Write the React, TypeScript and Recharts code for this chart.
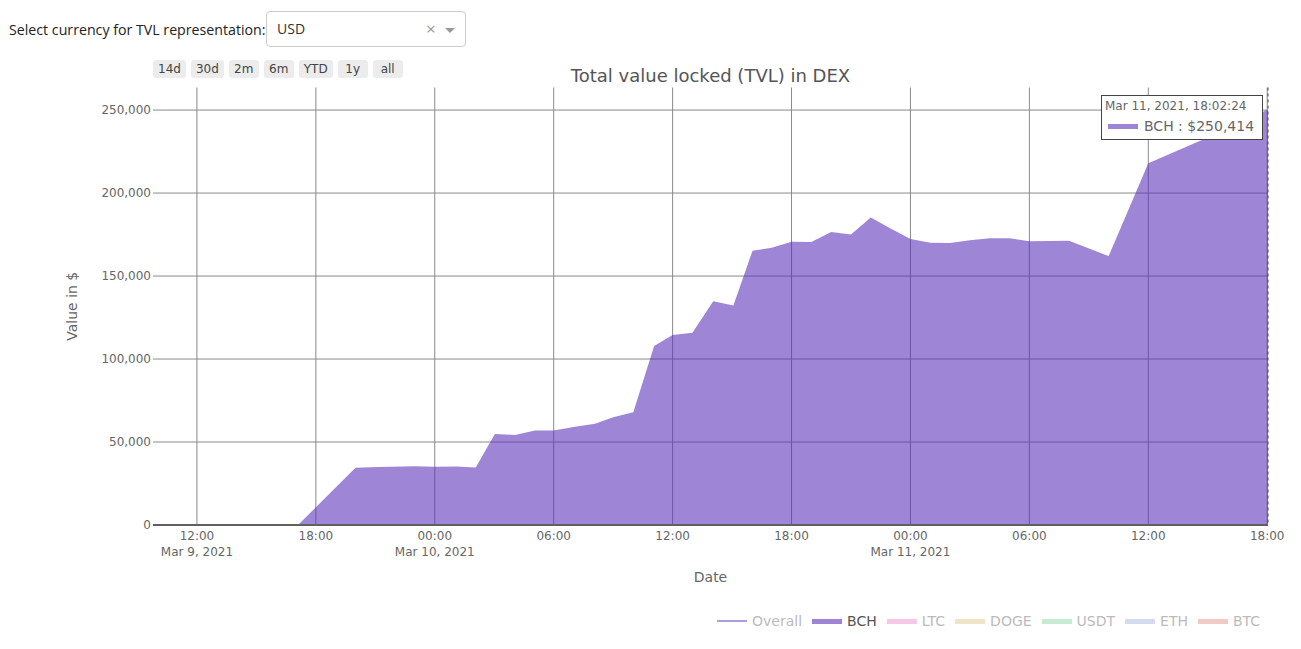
import React from "react";
import { Area, AreaChart, CartesianGrid, Legend, ReferenceLine, Tooltip, XAxis, YAxis } from "recharts";

// TVL samples for BCH (UTC timestamps)
const TIMES = [
  "2021-03-09T09:47:00", "2021-03-09T17:06:00", "2021-03-09T20:00:00", "2021-03-09T21:10:00",
  "2021-03-09T23:00:00", "2021-03-10T00:00:00", "2021-03-10T01:05:00", "2021-03-10T02:04:00",
  "2021-03-10T03:02:00", "2021-03-10T04:03:00", "2021-03-10T05:03:00", "2021-03-10T06:00:00",
  "2021-03-10T07:00:00", "2021-03-10T08:05:00", "2021-03-10T09:00:00", "2021-03-10T10:01:00",
  "2021-03-10T11:04:00", "2021-03-10T12:00:00", "2021-03-10T13:00:00", "2021-03-10T14:03:00",
  "2021-03-10T15:04:00", "2021-03-10T16:02:00", "2021-03-10T17:00:00", "2021-03-10T18:00:00",
  "2021-03-10T19:00:00", "2021-03-10T20:00:00", "2021-03-10T21:00:00", "2021-03-10T22:00:00",
  "2021-03-10T23:00:00", "2021-03-11T00:00:00", "2021-03-11T01:00:00", "2021-03-11T02:00:00",
  "2021-03-11T03:00:00", "2021-03-11T04:00:00", "2021-03-11T05:00:00", "2021-03-11T06:00:00",
  "2021-03-11T08:00:00", "2021-03-11T10:00:00", "2021-03-11T12:00:00", "2021-03-11T15:00:00",
  "2021-03-11T18:02:24",
];

const BCH = [
  0, 0, 34500, 35000,
  35400, 35100, 35200, 34700,
  54800, 54300, 57000, 57000,
  59000, 61000, 64900, 68000,
  107800, 114500, 115800, 134800,
  132200, 165300, 167000, 170600,
  170500, 176600, 175000, 185200,
  178600, 172300, 170000, 169900,
  171600, 172800, 172800, 170900,
  171300, 162000, 217900, 233500,
  250414,
];

const X_TICKS = [
  "2021-03-09T12:00:00", "2021-03-09T18:00:00", "2021-03-10T00:00:00", "2021-03-10T06:00:00",
  "2021-03-10T12:00:00", "2021-03-10T18:00:00", "2021-03-11T00:00:00", "2021-03-11T06:00:00",
  "2021-03-11T12:00:00", "2021-03-11T18:00:00",
];
const Y_TICKS = [0, 50000, 100000, 150000, 200000, 250000];
const Y_MAX = 263594;

const LEGEND_NAMES = ["Overall", "BCH", "LTC", "DOGE", "USDT", "ETH", "BTC"];
const LEGEND_COLORS = ["#ad9ddc", "#9d85d6", "#f6c8e8", "#eee4c9", "#c8ead2", "#d5dcf2", "#f1c9c5"];
const LEGEND_VISIBLE = [false, true, false, false, false, false, false];

const RANGE_BUTTONS = ["14d", "30d", "2m", "6m", "YTD", "1y", "all"];
const MONTHS = ["Jan", "Feb", "Mar", "Apr", "May", "Jun", "Jul", "Aug", "Sep", "Oct", "Nov", "Dec"];

const FONT = "'DejaVu Sans', Verdana, sans-serif";
const toMs = (s: string) => Date.parse(s + "Z");
const pad = (n: number) => String(n).padStart(2, "0");

const data = TIMES.map((t, i) => ({ t: toMs(t), bch: BCH[i] }));
const xTicks = X_TICKS.map(toMs);

function fmtDay(d: Date) {
  return `${MONTHS[d.getUTCMonth()]} ${d.getUTCDate()}, ${d.getUTCFullYear()}`;
}

function DateTick(props: any) {
  const { x, y, payload } = props;
  const d = new Date(payload.value);
  const showDate = payload.value === xTicks[0] || d.getUTCHours() === 0;
  return (
    <g>
      <text x={x} y={y} dy={14.5} textAnchor="middle" fontSize={12} fill="#666" fontFamily={FONT}>
        {pad(d.getUTCHours())}:{pad(d.getUTCMinutes())}
      </text>
      {showDate && (
        <text x={x} y={y} dy={30.5} textAnchor="middle" fontSize={12} fill="#666" fontFamily={FONT}>
          {fmtDay(d)}
        </text>
      )}
    </g>
  );
}

function HoverBox(props: any) {
  const { payload, label } = props;
  if (!payload || !payload.length) return null;
  const d = new Date(label);
  const stamp = `${fmtDay(d)}, ${pad(d.getUTCHours())}:${pad(d.getUTCMinutes())}:${pad(d.getUTCSeconds())}`;
  return (
    <div
      style={{
        width: 162,
        height: 45,
        boxSizing: "border-box",
        background: "#fff",
        border: "1px solid #444",
        fontFamily: FONT,
        color: "#666",
        padding: "3px 0 0 3px",
        whiteSpace: "nowrap",
      }}
    >
      <div style={{ fontSize: 12, lineHeight: "15px" }}>{stamp}</div>
      <div style={{ display: "flex", alignItems: "center", fontSize: 14, lineHeight: "20px", marginTop: 2 }}>
        <span style={{ display: "inline-block", width: 30, height: 5, background: "#9d85d6", margin: "0 6px 0 3px" }} />
        BCH : ${Math.round(payload[0].value).toLocaleString("en-US")}
      </div>
    </div>
  );
}

function LegendRow() {
  return (
    <div style={{ display: "flex", alignItems: "center", fontFamily: FONT, fontSize: 14, height: 20 }}>
      {LEGEND_NAMES.map((name, i) => (
        <div key={name} style={{ display: "flex", alignItems: "center", marginLeft: i === 0 ? 0 : 10 }}>
          <span
            style={{
              display: "inline-block",
              width: 30,
              height: i === 0 ? 2 : 5,
              background: LEGEND_COLORS[i],
              marginRight: 5,
            }}
          />
          <span style={{ color: LEGEND_VISIBLE[i] ? "#555" : "#bbb" }}>{name}</span>
        </div>
      ))}
    </div>
  );
}

export default function App() {
  return (
    <div style={{ position: "absolute", left: 0, top: 0, width: 1301, height: 649, background: "#fff", fontFamily: FONT }}>
      {/* currency selector */}
      <div
        style={{
          position: "absolute",
          left: 9,
          top: 19,
          fontFamily: "'Open Sans', sans-serif",
          fontSize: 14.2,
          lineHeight: "22px",
          color: "#222",
        }}
      >
        Select currency for TVL representation:
      </div>
      <div
        style={{
          position: "absolute",
          left: 266,
          top: 11,
          width: 200,
          height: 36,
          boxSizing: "border-box",
          border: "1px solid #ccc",
          borderRadius: 4,
          fontFamily: "'Open Sans', sans-serif",
          fontSize: 14,
          color: "#333",
        }}
      >
        <span style={{ position: "absolute", left: 10, top: 7 }}>USD</span>
        <span style={{ position: "absolute", left: 159, top: 5, fontSize: 17, color: "#999" }}>×</span>
        <span
          style={{
            position: "absolute",
            left: 178,
            top: 16,
            width: 0,
            height: 0,
            borderLeft: "5px solid transparent",
            borderRight: "5px solid transparent",
            borderTop: "5px solid #999",
          }}
        />
      </div>

      {/* range buttons */}
      <div style={{ position: "absolute", left: 153, top: 60, display: "flex", gap: 5 }}>
        {RANGE_BUTTONS.map((b) => (
          <div
            key={b}
            style={{
              minWidth: 30,
              height: 18,
              padding: "0 5px",
              boxSizing: "border-box",
              background: "#ececec",
              borderRadius: 3,
              fontSize: 12,
              lineHeight: "18px",
              textAlign: "center",
              color: "#444",
            }}
          >
            {b}
          </div>
        ))}
      </div>

      <AreaChart
        width={1301}
        height={649}
        data={data}
        margin={{ top: 87.5, right: 33, bottom: 64, left: 0 }}
        style={{ position: "absolute", left: 0, top: 0 }}
      >
        <CartesianGrid stroke="#8a8a8a" strokeWidth={1} syncWithTicks />
        <XAxis
          dataKey="t"
          type="number"
          domain={[data[0].t, data[data.length - 1].t]}
          ticks={xTicks}
          allowDataOverflow
          height={60}
          axisLine={false}
          tickLine={false}
          tickSize={0}
          tickMargin={0}
          interval={0}
          tick={<DateTick />}
          label={(p: any) => (
            <text
              x={p.viewBox.x + p.viewBox.width / 2}
              y={p.viewBox.y + 57}
              textAnchor="middle"
              fontSize={14}
              fill="#666"
              fontFamily={FONT}
            >
              Date
            </text>
          )}
        />
        <YAxis
          type="number"
          domain={[0, Y_MAX]}
          ticks={Y_TICKS}
          width={153}
          axisLine={false}
          tickLine={false}
          tickSize={0}
          tickMargin={2}
          interval={0}
          tick={{ fontSize: 12, fill: "#666", fontFamily: FONT }}
          tickFormatter={(v: number) => v.toLocaleString("en-US")}
          label={(p: any) => {
            const cx = 72;
            const cy = p.viewBox.y + p.viewBox.height / 2;
            return (
              <text
                x={cx}
                y={cy}
                transform={`rotate(-90, ${cx}, ${cy})`}
                textAnchor="middle"
                dominantBaseline="central"
                fontSize={14}
                fill="#666"
                fontFamily={FONT}
              >
                Value in $
              </text>
            );
          }}
        />
        <Area
          type="linear"
          dataKey="bch"
          name="BCH"
          stroke="none"
          fill="#5c30b8"
          fillOpacity={0.59}
          activeDot={false}
          dot={false}
          isAnimationActive={false}
        />
        <ReferenceLine y={0} stroke="#606060" strokeWidth={2} />
        <Tooltip
          active
          defaultIndex={data.length - 1}
          position={{ x: 1101, y: 95 }}
          isAnimationActive={false}
          cursor={{ stroke: "#444", strokeWidth: 1, strokeDasharray: "3 3" }}
          content={<HoverBox />}
          wrapperStyle={{ outline: "none" }}
        />
        <Legend
          layout="horizontal"
          verticalAlign="middle"
          align="center"
          content={<LegendRow />}
          wrapperStyle={{ left: 717, top: 611, width: "auto" }}
        />
      </AreaChart>

      {/* title */}
      <div
        style={{
          position: "absolute",
          left: 153,
          top: 65,
          width: 1115,
          textAlign: "center",
          fontSize: 18,
          lineHeight: "22px",
          color: "#555",
        }}
      >
        Total value locked (TVL) in DEX
      </div>
    </div>
  );
}
